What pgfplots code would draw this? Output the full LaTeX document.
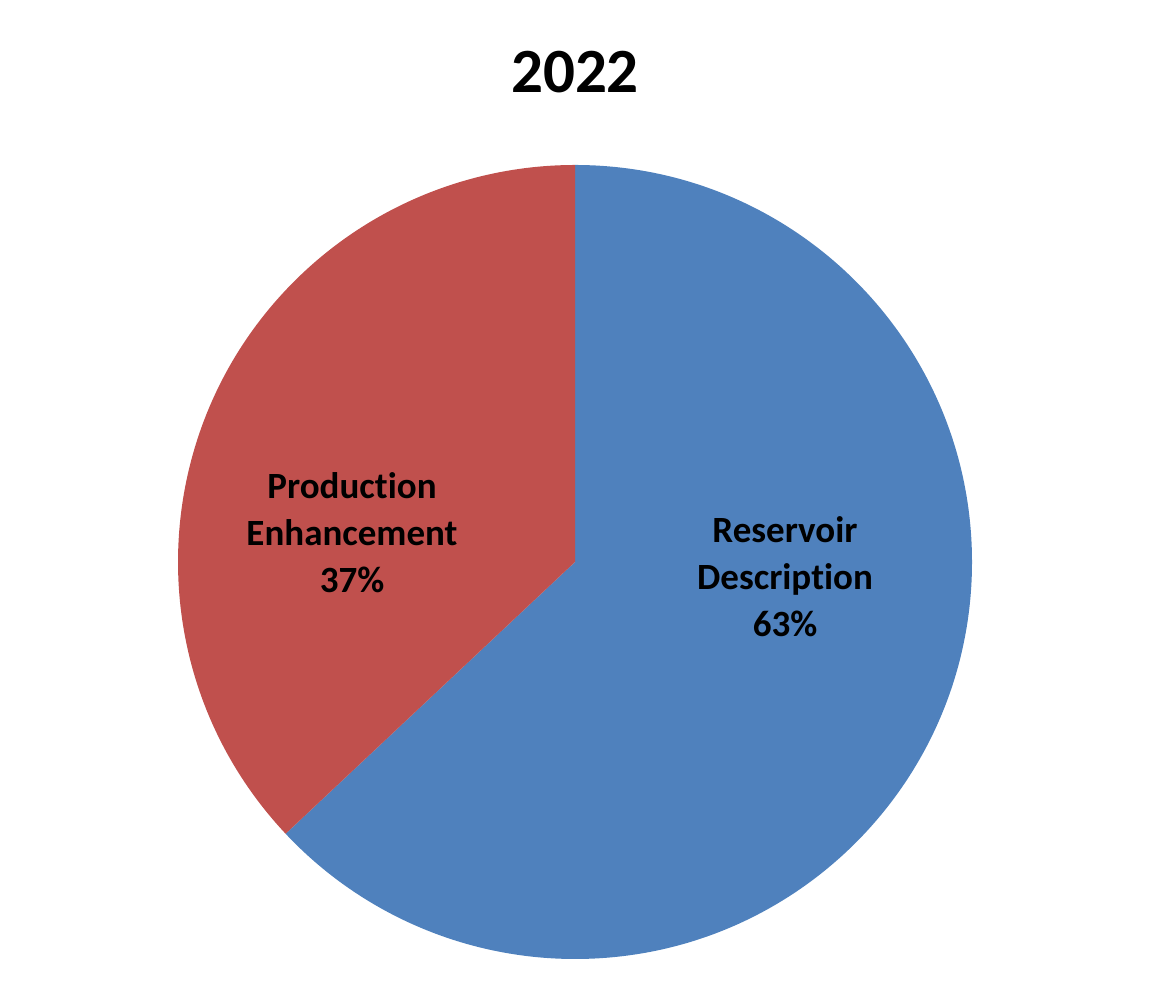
\documentclass[border=0pt]{standalone}
\usepackage{pgfplots}
\pgfplotsset{compat=1.18}
\usepackage{pgfplotstable}
\usepackage{fontspec}
\setmainfont{Carlito}[Ligatures=NoCommon]

\definecolor{pieblue}{HTML}{4F81BD}
\definecolor{piered}{HTML}{C0504D}

% share of each segment, percent
\pgfplotstableread{
label value
Reservoir 63
Production 37
}\piedata

\pgfplotstablegetelem{0}{value}\of\piedata
\let\vA\pgfplotsretval
\pgfplotstablegetelem{1}{value}\of\piedata
\let\vB\pgfplotsretval
% blue starts at 12 o'clock and runs clockwise
\pgfmathsetmacro{\aMid}{90-3.6*\vA}
\pgfmathsetmacro{\aEnd}{\aMid-3.6*\vB}

\begin{document}
\begin{tikzpicture}
  \begin{axis}[
    width=575pt, height=502pt,
    scale only axis,
    xmin=0, xmax=1150, ymin=0, ymax=1004,
    hide axis,
    clip=false,
  ]
  % keep the whole canvas
  \path (axis cs:0,0) rectangle (axis cs:1150,1004);
  \fill[pieblue] (axis cs:575,442) -- ++(90:198.5pt)
    arc[start angle=90, end angle=\aMid, radius=198.5pt] -- cycle;
  \fill[piered] (axis cs:575,442) -- ++(\aMid:198.5pt)
    arc[start angle=\aMid, end angle=\aEnd, radius=198.5pt] -- cycle;

  \node[font=\bfseries\fontsize{31.5}{36}\selectfont] at (axis cs:575,932) {2022};
  \node[align=center, font=\bfseries\fontsize{18.5}{23.5}\selectfont]
    at (axis cs:352,471) {Production\\Enhancement\\\vB\%};
  \node[align=center, font=\bfseries\fontsize{18.5}{23.5}\selectfont]
    at (axis cs:785,427) {Reservoir\\Description\\\vA\%};
  \end{axis}
\end{tikzpicture}
\end{document}
